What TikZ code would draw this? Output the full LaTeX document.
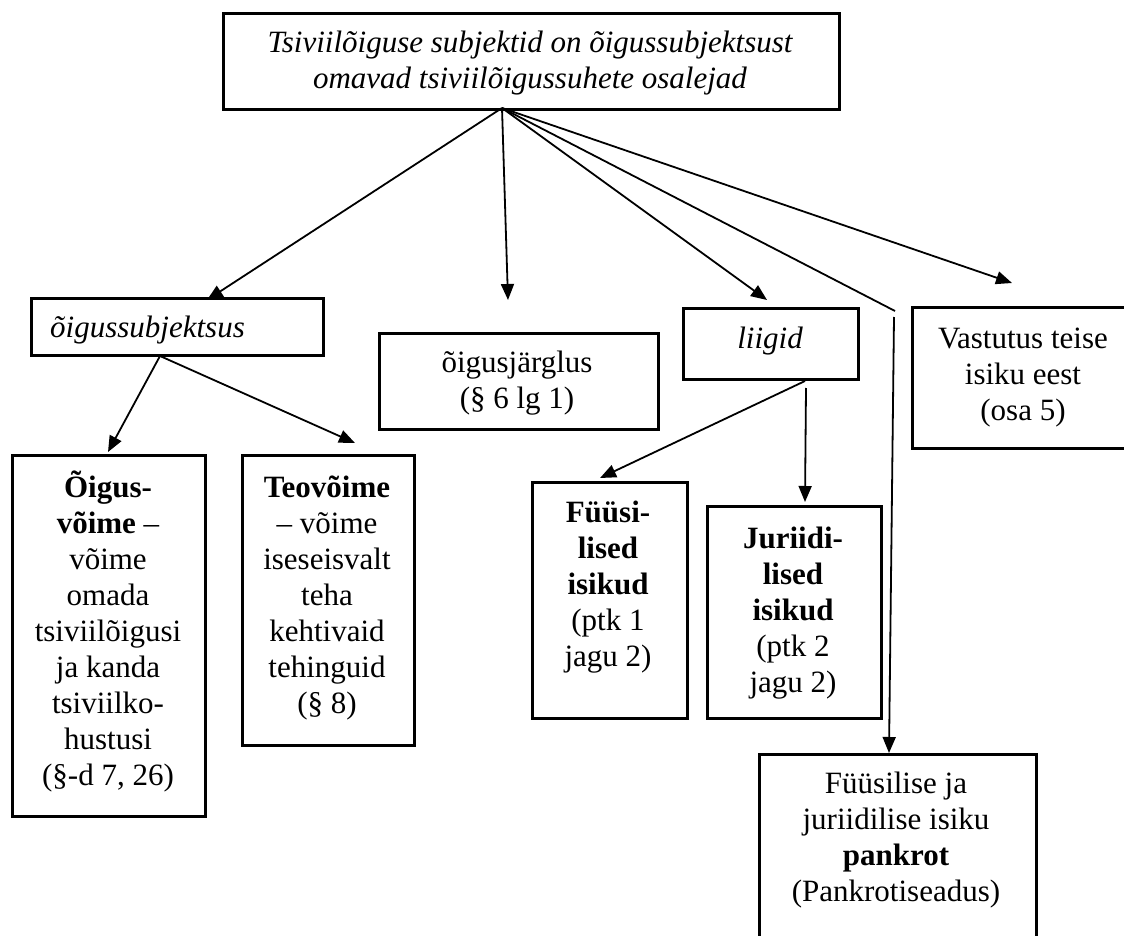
\documentclass[tikz,border=0pt]{standalone}
\usepackage{fontspec}
\setmainfont{Liberation Serif}
\usetikzlibrary{arrows.meta}
\newcommand\tp{\rule{0pt}{28pt}}
\begin{document}
\begin{tikzpicture}[x=1pt,y=-1pt,
  box/.style={draw, line width=2.6pt, inner sep=0pt, anchor=north west},
  txt/.style={inner sep=0pt, anchor=north, align=center, font=\fontsize{31}{36}\selectfont},
  itxt/.style={txt, font=\fontsize{31}{36}\selectfont\itshape},
  conn/.style={line width=1.8pt},
  arr/.style={conn, -{Triangle[length=16pt,width=13pt]}}]
\useasboundingbox (0,0) rectangle (1124,936);

% boxes
\node[box, minimum width=616pt, minimum height=96pt] (top) at (222,12) {};
\node[box, minimum width=292pt, minimum height=57pt] (subj) at (30,297) {};
\node[box, minimum width=279pt, minimum height=96pt] (jarg) at (378,332) {};
\node[box, minimum width=175pt, minimum height=71pt] (liigid) at (682,307) {};
\node[box, minimum width=224pt, minimum height=141pt] (vast) at (911,306) {};
\node[box, minimum width=193pt, minimum height=361pt] (oigus) at (11,454) {};
\node[box, minimum width=172pt, minimum height=290pt] (teo) at (241,454) {};
\node[box, minimum width=155pt, minimum height=236pt] (fyys) at (531,481) {};
\node[box, minimum width=174pt, minimum height=212pt] (jur) at (706,505) {};
\node[box, minimum width=277pt, minimum height=200pt] (pank) at (758,753) {};

% texts
\node[itxt] (top-t) at (530,52-28) {\tp Tsiviilõiguse subjektid on õigussubjektsust\\omavad tsiviilõigussuhete osalejad};
\node[itxt, anchor=north west] (subj-t) at (50,337-28) {\tp õigussubjektsus};
\node[txt] (jarg-t) at (517,372-28) {\tp õigusjärglus\\(§ 6 lg 1)};
\node[itxt] (liigid-t) at (770,348-28) {\tp liigid};
\node[txt] (vast-t) at (1023,348-28) {\tp Vastutus teise\\isiku eest\\(osa 5)};
\node[txt] (oigus-t) at (108,497-28) {\tp\textbf{Õigus-}\\\textbf{võime} –\\võime\\omada\\tsiviilõigusi\\ja kanda\\tsiviilko-\\hustusi\\(§-d 7, 26)};
\node[txt] (teo-t) at (327,497-28) {\tp\textbf{Teovõime}\\– võime\\iseseisvalt\\teha\\kehtivaid\\tehinguid\\(§ 8)};
\node[txt] (fyys-t) at (608,522-28) {\tp\textbf{Füüsi-}\\\textbf{lised}\\\textbf{isikud}\\(ptk 1\\jagu 2)};
\node[txt] (jur-t) at (793,548-28) {\tp\textbf{Juriidi-}\\\textbf{lised}\\\textbf{isikud}\\(ptk 2\\jagu 2)};
\node[txt] (pank-t) at (896,793-28) {\tp Füüsilise ja\\juriidilise isiku\\\textbf{pankrot}\\(Pankrotiseadus)};

% connector points
\coordinate (o) at (502,108);
\coordinate (t1) at (207,300);
\coordinate (t4) at (508,300);
\coordinate (t5) at (767,300);
\coordinate (t6) at (1012,283);
\coordinate (k1) at (895,311);
\coordinate (k2) at (894,317);
\coordinate (t9) at (889,753);
\coordinate (s1) at (160,356);
\coordinate (t2) at (108,452);
\coordinate (t3) at (355,443);
\coordinate (s2) at (805,381);
\coordinate (t7) at (600,478);
\coordinate (s3) at (806,388);
\coordinate (t8) at (805,502);

\draw[arr] (o) -- (t1);
\draw[arr] (o) -- (t4);
\draw[arr] (o) -- (t5);
\draw[arr] (o) -- (t6);
\draw[conn] (o) -- (k1);
\draw[arr] (k2) -- (t9);
\draw[arr] (s1) -- (t2);
\draw[arr] (s1) -- (t3);
\draw[arr] (s2) -- (t7);
\draw[arr] (s3) -- (t8);
\end{tikzpicture}
\end{document}
